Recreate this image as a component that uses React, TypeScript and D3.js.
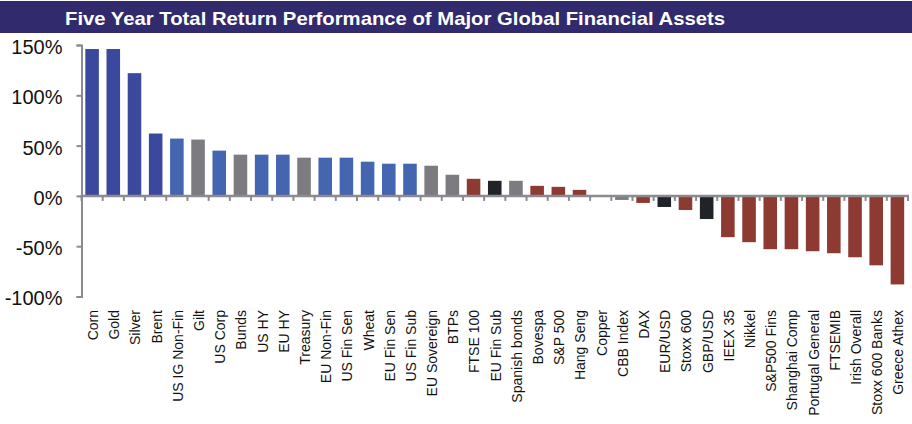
import { useEffect, useRef } from 'react';
import * as d3 from 'd3';

const categories = [
  'Corn', 'Gold', 'Silver', 'Brent', 'US IG Non-Fin', 'Gilt', 'US Corp', 'Bunds', 'US HY', 'EU HY',
  'Treasury', 'EU Non-Fin', 'US Fin Sen', 'Wheat', 'EU Fin Sen', 'US Fin Sub', 'EU Sovereign', 'BTPs',
  'FTSE 100', 'EU Fin Sub', 'Spanish bonds', 'Bovespa', 'S&P 500', 'Hang Seng', 'Copper', 'CBB Index',
  'DAX', 'EUR/USD', 'Stoxx 600', 'GBP/USD', 'IEEX 35', 'Nikkel', 'S&P500 Fins', 'Shanghai Comp',
  'Portugal General', 'FTSEMIB', 'Irish Overall', 'Stoxx 600 Banks', 'Greece Athex',
];

// five year total return, %
const returns = [
  146, 146, 122, 62, 57, 56, 45, 41, 41, 41,
  38, 38, 38, 34, 32, 32, 30, 21,
  17, 15, 15, 10, 9, 6, 0, -4,
  -7, -11, -14, -23, -41, -46, -53, -53,
  -55, -57, -61, -69, -88,
];

const groups = [
  'commodity', 'commodity', 'commodity', 'commodity', 'credit', 'sovereign', 'credit', 'sovereign', 'credit', 'credit',
  'sovereign', 'credit', 'credit', 'credit', 'credit', 'credit', 'sovereign', 'sovereign',
  'equity', 'fx', 'sovereign', 'equity', 'equity', 'equity', 'commodity', 'sovereign',
  'equity', 'fx', 'equity', 'fx', 'equity', 'equity', 'equity', 'equity',
  'equity', 'equity', 'equity', 'equity', 'equity',
];

const yTicks = [150, 100, 50, 0, -50, -100];

const title = 'Five Year Total Return Performance of Major Global Financial Assets';

function ReturnsChart() {
  const svgRef = useRef<SVGSVGElement>(null);

  useEffect(() => {
    const width = 912;
    const height = 424;
    const left = 81.5;
    const right = 908;

    const svg = d3.select(svgRef.current)
      .attr('width', width)
      .attr('height', height);

    svg.selectAll('*').remove();

    const data = categories.map((c, i) => ({ name: c, value: returns[i], group: groups[i] }));

    const x = d3.scaleBand()
      .domain(categories)
      .range([left, right])
      .paddingInner(0.36)
      .paddingOuter(0.18);

    const y = d3.scaleLinear()
      .domain([-100, 150])
      .range([296.5, 45]);

    const color = d3.scaleOrdinal<string, string>()
      .domain(['commodity', 'credit', 'sovereign', 'equity', 'fx'])
      .range(['#3a489e', '#4465b0', '#7b7b80', '#8d3a32', '#202327']);

    // title bar
    svg.append('rect')
      .attr('x', 0)
      .attr('y', 1)
      .attr('width', width)
      .attr('height', 32)
      .attr('fill', '#312a6c');

    svg.append('text')
      .attr('x', 65)
      .attr('y', 24.5)
      .attr('fill', '#fff')
      .attr('font-family', '"Liberation Sans", Arial, sans-serif')
      .attr('font-weight', 'bold')
      .attr('font-size', 19)
      .attr('textLength', 660)
      .attr('lengthAdjust', 'spacingAndGlyphs')
      .text(title);

    // bars
    svg.append('g')
      .selectAll('rect')
      .data(data)
      .enter()
      .append('rect')
      .attr('x', d => x(d.name)!)
      .attr('y', d => y(Math.max(0, d.value)))
      .attr('width', x.bandwidth())
      .attr('height', d => Math.abs(y(d.value) - y(0)))
      .attr('fill', d => color(d.group));

    const axisColor = '#8a8a90';

    // y axis
    const yAxis = svg.append('g')
      .attr('transform', `translate(${left}, 0)`)
      .call(d3.axisLeft(y).tickValues(yTicks).tickSize(5).tickPadding(14).tickFormat(d => `${d}%`));

    yAxis.select('.domain').attr('stroke', axisColor).attr('stroke-width', 2);
    yAxis.selectAll('.tick line').attr('stroke', axisColor).attr('stroke-width', 2);
    yAxis.selectAll('.tick text')
      .attr('fill', '#111')
      .attr('font-family', '"Liberation Sans", Arial, sans-serif')
      .attr('font-size', 20)
      .attr('dy', '0.42em');

    // zero line with ticks on band boundaries
    const step = x.step();
    const boundaries = d3.range(categories.length + 1).map(i => left + i * step);

    svg.append('g')
      .selectAll('line')
      .data(boundaries)
      .enter()
      .append('line')
      .attr('x1', d => d)
      .attr('x2', d => d)
      .attr('y1', y(0))
      .attr('y2', y(0) + 5)
      .attr('stroke', axisColor)
      .attr('stroke-width', 2);

    svg.append('line')
      .attr('x1', left - 1)
      .attr('x2', right + 1)
      .attr('y1', y(0))
      .attr('y2', y(0))
      .attr('stroke', axisColor)
      .attr('stroke-width', 2.5);

    // category labels
    svg.append('g')
      .selectAll('text')
      .data(data)
      .enter()
      .append('text')
      .attr('transform', d => `translate(${x(d.name)! + x.bandwidth() / 2 + 1}, 310) rotate(-90)`)
      .attr('text-anchor', 'end')
      .attr('dy', '0.35em')
      .attr('fill', '#111')
      .attr('font-family', '"Liberation Sans", Arial, sans-serif')
      .attr('font-size', 14)
      .text(d => d.name);
  }, []);

  return <svg ref={svgRef} style={{ position: 'absolute', left: 0, top: 0, display: 'block' }}></svg>;
}

export default function App() {
  return <ReturnsChart />;
}
